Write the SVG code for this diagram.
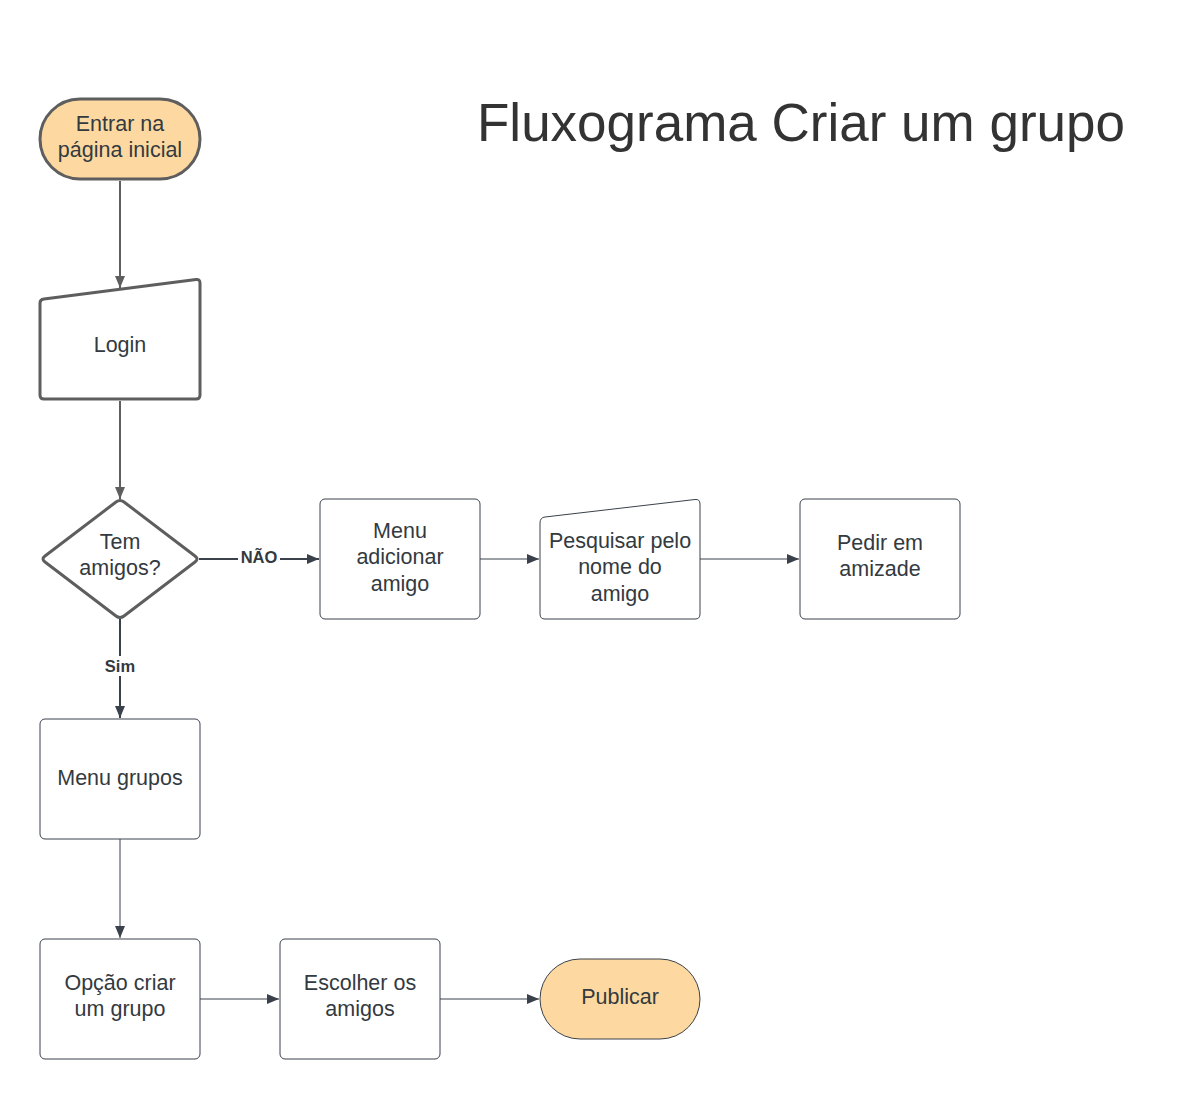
<svg xmlns="http://www.w3.org/2000/svg" width="1201" height="1100" viewBox="0 0 1201 1100">
<defs>
<style>
text{font-family:"Liberation Sans",Arial,sans-serif;fill:#333a40;text-anchor:middle}
.t{font-size:21.5px}
.lbl{font-size:16.5px;font-weight:bold;fill:#333a40}
.thick{fill:#fff;stroke:#5e5e5e;stroke-width:3}
.thin{fill:#fff;stroke:#3a414a;stroke-width:1}
.or{fill:#fdd9a1}
.c1{stroke:#5e5e5e;stroke-width:2;fill:none}
.c2{stroke:#3a414a;stroke-width:2;fill:none}
.c3{stroke:#3a414a;stroke-width:1;fill:none}
</style>
<marker id="ag" viewBox="0 0 12 10" refX="12" refY="5" markerWidth="12" markerHeight="10" markerUnits="userSpaceOnUse" orient="auto"><path d="M0,0 L12,5 L0,10 z" fill="#5e5e5e"/></marker>
<marker id="ad" viewBox="0 0 12 10" refX="12" refY="5" markerWidth="12" markerHeight="10" markerUnits="userSpaceOnUse" orient="auto"><path d="M0,0 L12,5 L0,10 z" fill="#3a414a"/></marker>
</defs>
<rect width="1201" height="1100" fill="#fff"/>
<text x="801" y="141" style="font-size:53px;fill:#333">Fluxograma Criar um grupo</text>

<g id="connectors">
<path class="c1" d="M120,181 L120,288" marker-end="url(#ag)"/>
<path class="c1" d="M120,401 L120,499" marker-end="url(#ag)"/>
<path class="c2" d="M199,559 L319,559" marker-end="url(#ad)"/>
<path class="c2" d="M120,618 L120,718" marker-end="url(#ad)"/>
<path class="c3" d="M480,559 L539,559" marker-end="url(#ad)"/>
<path class="c3" d="M700,559 L799,559" marker-end="url(#ad)"/>
<path class="c3" d="M120,839 L120,938" marker-end="url(#ad)"/>
<path class="c3" d="M200,999 L279,999" marker-end="url(#ad)"/>
<path class="c3" d="M440,999 L539,999" marker-end="url(#ad)"/>
<rect x="238" y="548" width="42" height="20" fill="#fff"/>
<text class="lbl" x="259" y="563">NÃO</text>
<rect x="102" y="656" width="36" height="20" fill="#fff"/>
<text class="lbl" x="120" y="672">Sim</text>
</g>

<g id="start">
<rect class="thick or" x="40" y="99" width="160" height="80" rx="40"/>
<text class="t" x="120" y="131">Entrar na</text>
<text class="t" x="120" y="157">página inicial</text>
</g>
<g id="login">
<path class="thick" d="M44,299 L196,279.5 Q200,279 200,283 L200,395 Q200,399 196,399 L44,399 Q40,399 40,395 L40,303 Q40,299.5 44,299 z"/>
<text class="t" x="120" y="352">Login</text>
</g>
<g id="decision">
<path class="thick" d="M116,502 Q120,499 124,502 L195,556 Q199,559 195,562 L124,616 Q120,619 116,616 L45,562 Q41,559 45,556 z"/>
<text class="t" x="120" y="549">Tem</text>
<text class="t" x="120" y="575">amigos?</text>
</g>
<g id="menu-adicionar">
<rect class="thin" x="320" y="499" width="160" height="120" rx="5"/>
<text class="t" x="400" y="538">Menu</text>
<text class="t" x="400" y="564">adicionar</text>
<text class="t" x="400" y="591">amigo</text>
</g>
<g id="pesquisar">
<path class="thin" d="M545,517 L695,499.5 Q700,499 700,504 L700,614 Q700,619 695,619 L545,619 Q540,619 540,614 L540,523 Q540,517.5 545,517 z"/>
<text class="t" x="620" y="548">Pesquisar pelo</text>
<text class="t" x="620" y="574">nome do</text>
<text class="t" x="620" y="601">amigo</text>
</g>
<g id="pedir">
<rect class="thin" x="800" y="499" width="160" height="120" rx="5"/>
<text class="t" x="880" y="550">Pedir em</text>
<text class="t" x="880" y="576">amizade</text>
</g>
<g id="menu-grupos">
<rect class="thin" x="40" y="719" width="160" height="120" rx="5"/>
<text class="t" x="120" y="785">Menu grupos</text>
</g>
<g id="opcao">
<rect class="thin" x="40" y="939" width="160" height="120" rx="5"/>
<text class="t" x="120" y="990">Opção criar</text>
<text class="t" x="120" y="1016">um grupo</text>
</g>
<g id="escolher">
<rect class="thin" x="280" y="939" width="160" height="120" rx="5"/>
<text class="t" x="360" y="990">Escolher os</text>
<text class="t" x="360" y="1016">amigos</text>
</g>
<g id="publicar">
<rect class="thin or" x="540" y="959" width="160" height="80" rx="40"/>
<text class="t" x="620" y="1004">Publicar</text>
</g>
</svg>
